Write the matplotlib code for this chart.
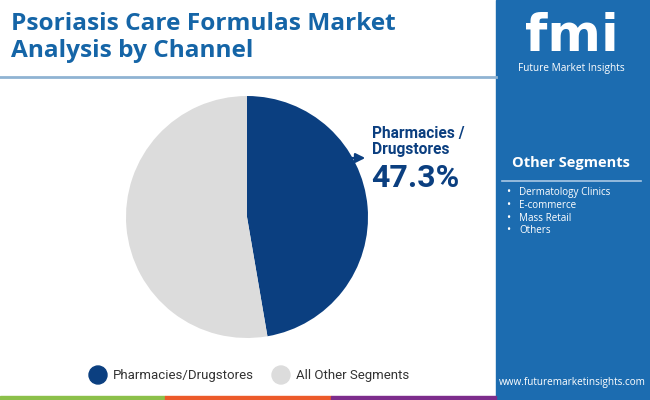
import matplotlib
matplotlib.use("Agg")
import matplotlib.pyplot as plt
from matplotlib.patches import Rectangle, Ellipse, FancyArrowPatch

# data
labels = ["Pharmacies/Drugstores", "All Other Segments"]
shares = [47.3, 52.7]
pie_colors = ["#0b3f80", "#dcdcdc"]
callout_label = "Pharmacies /\nDrugstores"
other_segments = ["Dermatology Clinics", "E-commerce", "Mass Retail", "Others"]
title = "Psoriasis Care Formulas Market\nAnalysis by Channel"

W, H = 650, 400
title_color = "#1565a7"
side_color = "#1c6cb0"

fig = plt.figure(figsize=(W / 100, H / 100), dpi=100)
fig.patch.set_facecolor("white")


def fx(x):
    return x / W


def fy(y):
    return 1 - y / H


# sidebar and bottom colour strip
fig.add_artist(Rectangle((fx(496), 0), fx(154), 1, transform=fig.transFigure,
                         color=side_color, zorder=0))
strip = ["#8cc04a", "#ec5a2a", "#7d2d8c"]
for i, c in enumerate(strip):
    fig.add_artist(Rectangle((fx(i * 165.3), 0), fx(165.3), 4 / H,
                             transform=fig.transFigure, color=c, zorder=1))

# title + rule
t1, t2 = title.split("\n")
fig.text(fx(11), fy(30), t1, ha="left", va="baseline", fontsize=17.6,
         fontweight="bold", color=title_color, family="Open Sans")
fig.text(fx(11), fy(57), t2, ha="left", va="baseline", fontsize=17.6,
         fontweight="bold", color=title_color, family="Open Sans")
fig.add_artist(plt.Line2D([0, fx(496)], [fy(77), fy(77)], transform=fig.transFigure,
                          color="#8fb3d3", lw=2))

# pie
r = 121
ax = fig.add_axes([fx(247 - r), fy(217 + r), 2 * r / W, 2 * r / H])
ax.pie(shares, colors=pie_colors, startangle=90, counterclock=False, radius=1,
       wedgeprops=dict(linewidth=0))
ax.set_xlim(-1, 1)
ax.set_ylim(-1, 1)
ax.set_aspect("equal")
ax.axis("off")

# callout
fig.add_artist(FancyArrowPatch((fx(349), fy(158)), (fx(368), fy(158)),
                               transform=fig.transFigure, arrowstyle="-|>",
                               mutation_scale=14, color=pie_colors[0], lw=1.6))
fig.text(fx(372), fy(126), callout_label, ha="left", va="top", fontsize=11.2,
         fontweight="bold", color=pie_colors[0], family="Roboto", linespacing=1.1)
fig.text(fx(371), fy(187), f"{shares[0]}%", ha="left", va="baseline", fontsize=23,
         fontweight="bold", color=pie_colors[0], family="Roboto")

# legend
leg_x = [98, 281]
for lx, lab, c in zip(leg_x, labels, pie_colors):
    fig.add_artist(Ellipse((fx(lx), fy(375)), 18 / W, 18 / H,
                           transform=fig.transFigure, color=c))
    fig.text(fx(lx + 15), fy(375), lab, ha="left", va="center", fontsize=9.5,
             color="#333333", family="Roboto")

# sidebar content
fig.text(fx(572), fy(51), "fmi", ha="center", va="baseline", fontsize=37,
         fontweight="bold", color="white", family="DejaVu Sans")
fig.text(fx(571), fy(69), "Future Market Insights", ha="center", va="center",
         fontsize=7.3, color="white", family="Open Sans")
fig.text(fx(571), fy(163), "Other Segments", ha="center", va="center", fontsize=10.5,
         fontweight="bold", color="white", family="Open Sans")
fig.add_artist(plt.Line2D([fx(502), fx(641)], [fy(181), fy(181)],
                          transform=fig.transFigure, color="#a9c8e4", lw=1.2))
for i, s in enumerate(other_segments):
    yy = 192.5 + i * 12.8
    fig.text(fx(506), fy(yy), "\u2022", ha="left", va="center", fontsize=8,
             color="white", family="Open Sans")
    fig.text(fx(519), fy(yy), s, ha="left", va="center", fontsize=7.1,
             color="white", family="Open Sans")
fig.text(fx(572), fy(383), "www.futuremarketinsights.com", ha="center", va="center",
         fontsize=7.2, color="white", family="Open Sans")

fig.savefig("out.png", dpi=100)
